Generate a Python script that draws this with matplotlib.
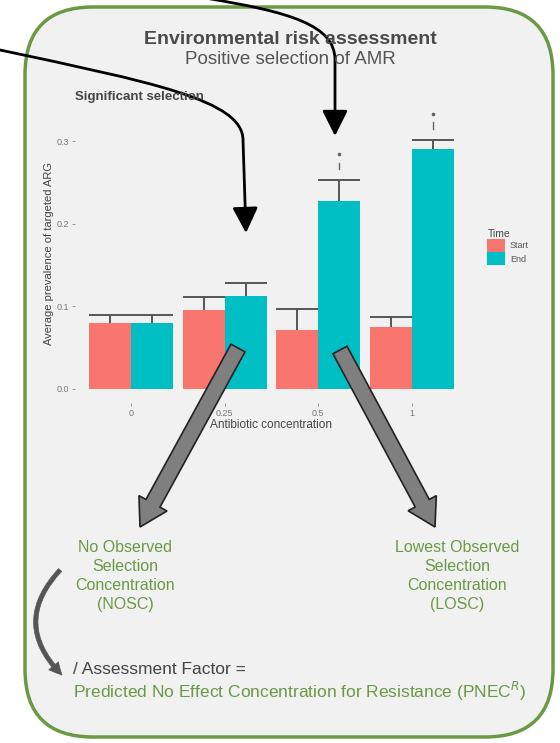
import numpy as np
import matplotlib.pyplot as plt
from matplotlib.patches import FancyBboxPatch, FancyArrowPatch
from matplotlib.path import Path

plt.rcParams['font.family'] = ['Liberation Sans', 'DejaVu Sans']

# Bar chart data
concentrations = ["0", "0.25", "0.5", "1"]
start_mean = [0.080, 0.095, 0.071, 0.075]
start_err = [0.009, 0.016, 0.026, 0.012]
end_mean = [0.080, 0.112, 0.227, 0.291]
end_err = [0.009, 0.016, 0.026, 0.011]
y_ticks = [0.0, 0.1, 0.2, 0.3]

start_color = "#F8766D"
end_color = "#00BFC4"
green = "#6b9a45"
bg_color = "#f1f1f1"

W, H = 560, 743
fig = plt.figure(figsize=(W / 100, H / 100), dpi=100)
fig.patch.set_facecolor("white")

# Background layer (pixel coordinates)
bg = fig.add_axes([0, 0, 1, 1], zorder=0)
bg.set_xlim(0, W)
bg.set_ylim(H, 0)
bg.axis("off")
box = FancyBboxPatch((25, 7), 528, 730, boxstyle="round,pad=0,rounding_size=68",
                     fc=bg_color, ec=green, lw=2.5)
bg.add_patch(box)

# Bar chart
ax = fig.add_axes([75 / W, 1 - 403 / H, 393 / W, 299 / H], zorder=1)
ax.set_facecolor("none")
x = np.arange(len(concentrations))
bw = 0.45
xs = x - bw / 2
xe = x + bw / 2
ax.bar(xs, start_mean, width=bw, color=start_color, label="Start", zorder=2)
ax.bar(xe, end_mean, width=bw, color=end_color, label="End", zorder=2)

# Upper error whiskers with caps as wide as the bars
for pos, m, e in [(xs, start_mean, start_err), (xe, end_mean, end_err)]:
    m = np.array(m)
    e = np.array(e)
    ax.vlines(pos, m, m + e, color="#555555", lw=1.4, zorder=3)
    ax.hlines(m + e, pos - bw / 2, pos + bw / 2, color="#555555", lw=1.4, zorder=3)

# Significance marks above the End bars at 0.5 and 1
for i in [2, 3]:
    top = end_mean[i] + end_err[i]
    ax.plot([xe[i]], [top + 0.031], marker="o", ms=1.6, color="#666666", zorder=3)
    ax.plot([xe[i], xe[i]], [top + 0.013, top + 0.021], color="#666666", lw=1.0, zorder=3)

ax.set_xlim(-0.6, 3.6)
ax.set_ylim(-0.017, 0.345)
ax.set_xticks(x)
ax.set_xticklabels(concentrations)
ax.set_yticks(y_ticks)
ax.set_yticklabels([f"{v:.1f}" for v in y_ticks])
ax.tick_params(axis="both", length=2, width=0.6, color="#888888",
               labelsize=6.5, labelcolor="#777777", pad=2)
for s in ax.spines.values():
    s.set_visible(False)
ax.set_xlabel("Antibiotic concentration", fontsize=8.5, color="#444444", labelpad=1)
ax.set_ylabel("Average prevalence of targeted ARG", fontsize=8, color="#444444", labelpad=2)
leg = ax.legend(title="Time", loc="upper left", bbox_to_anchor=(1.04, 0.595),
                frameon=False, fontsize=6.5, title_fontsize=7.5, handlelength=2.0,
                handleheight=1.9, labelspacing=0.0, handletextpad=0.5,
                borderaxespad=0)
leg._legend_box.align = "left"
for t in leg.get_texts():
    t.set_color("#555555")
leg.get_title().set_color("#444444")

# Overlay layer for arrows and annotations (pixel coordinates)
ov = fig.add_axes([0, 0, 1, 1], zorder=2)
ov.set_xlim(0, W)
ov.set_ylim(H, 0)
ov.axis("off")
ov.patch.set_alpha(0)

ov.text(290, 40, "Environmental risk assessment", ha="center", va="center",
        fontsize=14, fontweight="bold", color="#4a4a4a")
ov.text(290, 60, "Positive selection of AMR", ha="center", va="center",
        fontsize=13.5, color="#555555")
ov.text(75, 97, "Significant selection", ha="left", va="center",
        fontsize=9.5, fontweight="bold", color="#444444")

# Black curved pointers
path_a = Path([(0, 50), (150, 82), (243, 100), (243, 140), (246, 233)],
              [Path.MOVETO, Path.CURVE4, Path.CURVE4, Path.CURVE4, Path.LINETO])
ov.add_patch(FancyArrowPatch(path=path_a, arrowstyle="-|>,head_length=1.2,head_width=0.6",
                             mutation_scale=13, color="black", lw=2))
path_b = Path([(205, -2), (290, 12), (335, 25), (335, 60), (335, 136)],
              [Path.MOVETO, Path.CURVE4, Path.CURVE4, Path.CURVE4, Path.LINETO])
ov.add_patch(FancyArrowPatch(path=path_b, arrowstyle="-|>,head_length=1.2,head_width=0.6",
                             mutation_scale=13, color="black", lw=2))

# Grey block arrows
ov.arrow(238, 348, 140 - 238, 527 - 348, width=16, head_width=32, head_length=27,
         length_includes_head=True, fc="#7f7f7f", ec="#222222", lw=1.2)
ov.arrow(340, 350, 435 - 340, 527 - 350, width=16, head_width=32, head_length=27,
         length_includes_head=True, fc="#7f7f7f", ec="#222222", lw=1.2)

ov.text(125, 576, "No Observed\nSelection\nConcentration\n(NOSC)", ha="center",
        va="center", fontsize=11.5, color=green, linespacing=1.32)
ov.text(457, 576, "Lowest Observed\nSelection\nConcentration\n(LOSC)", ha="center",
        va="center", fontsize=11.5, color=green, linespacing=1.32)

# Curved link to the assessment factor
ov.add_patch(FancyArrowPatch((62, 568), (64, 677), connectionstyle="arc3,rad=0.5",
                             arrowstyle="simple,head_length=0.9,head_width=0.9,tail_width=0.3",
                             mutation_scale=10, fc="#555555", ec="#555555", lw=0.5))

ov.text(73, 669, "/ Assessment Factor =", ha="left", va="center",
        fontsize=12.5, color="#444444")
ov.text(73, 691, "Predicted No Effect Concentration for Resistance (PNEC$^R$)",
        ha="left", va="center", fontsize=12.5, color=green)

fig.savefig("out.png", dpi=100)
